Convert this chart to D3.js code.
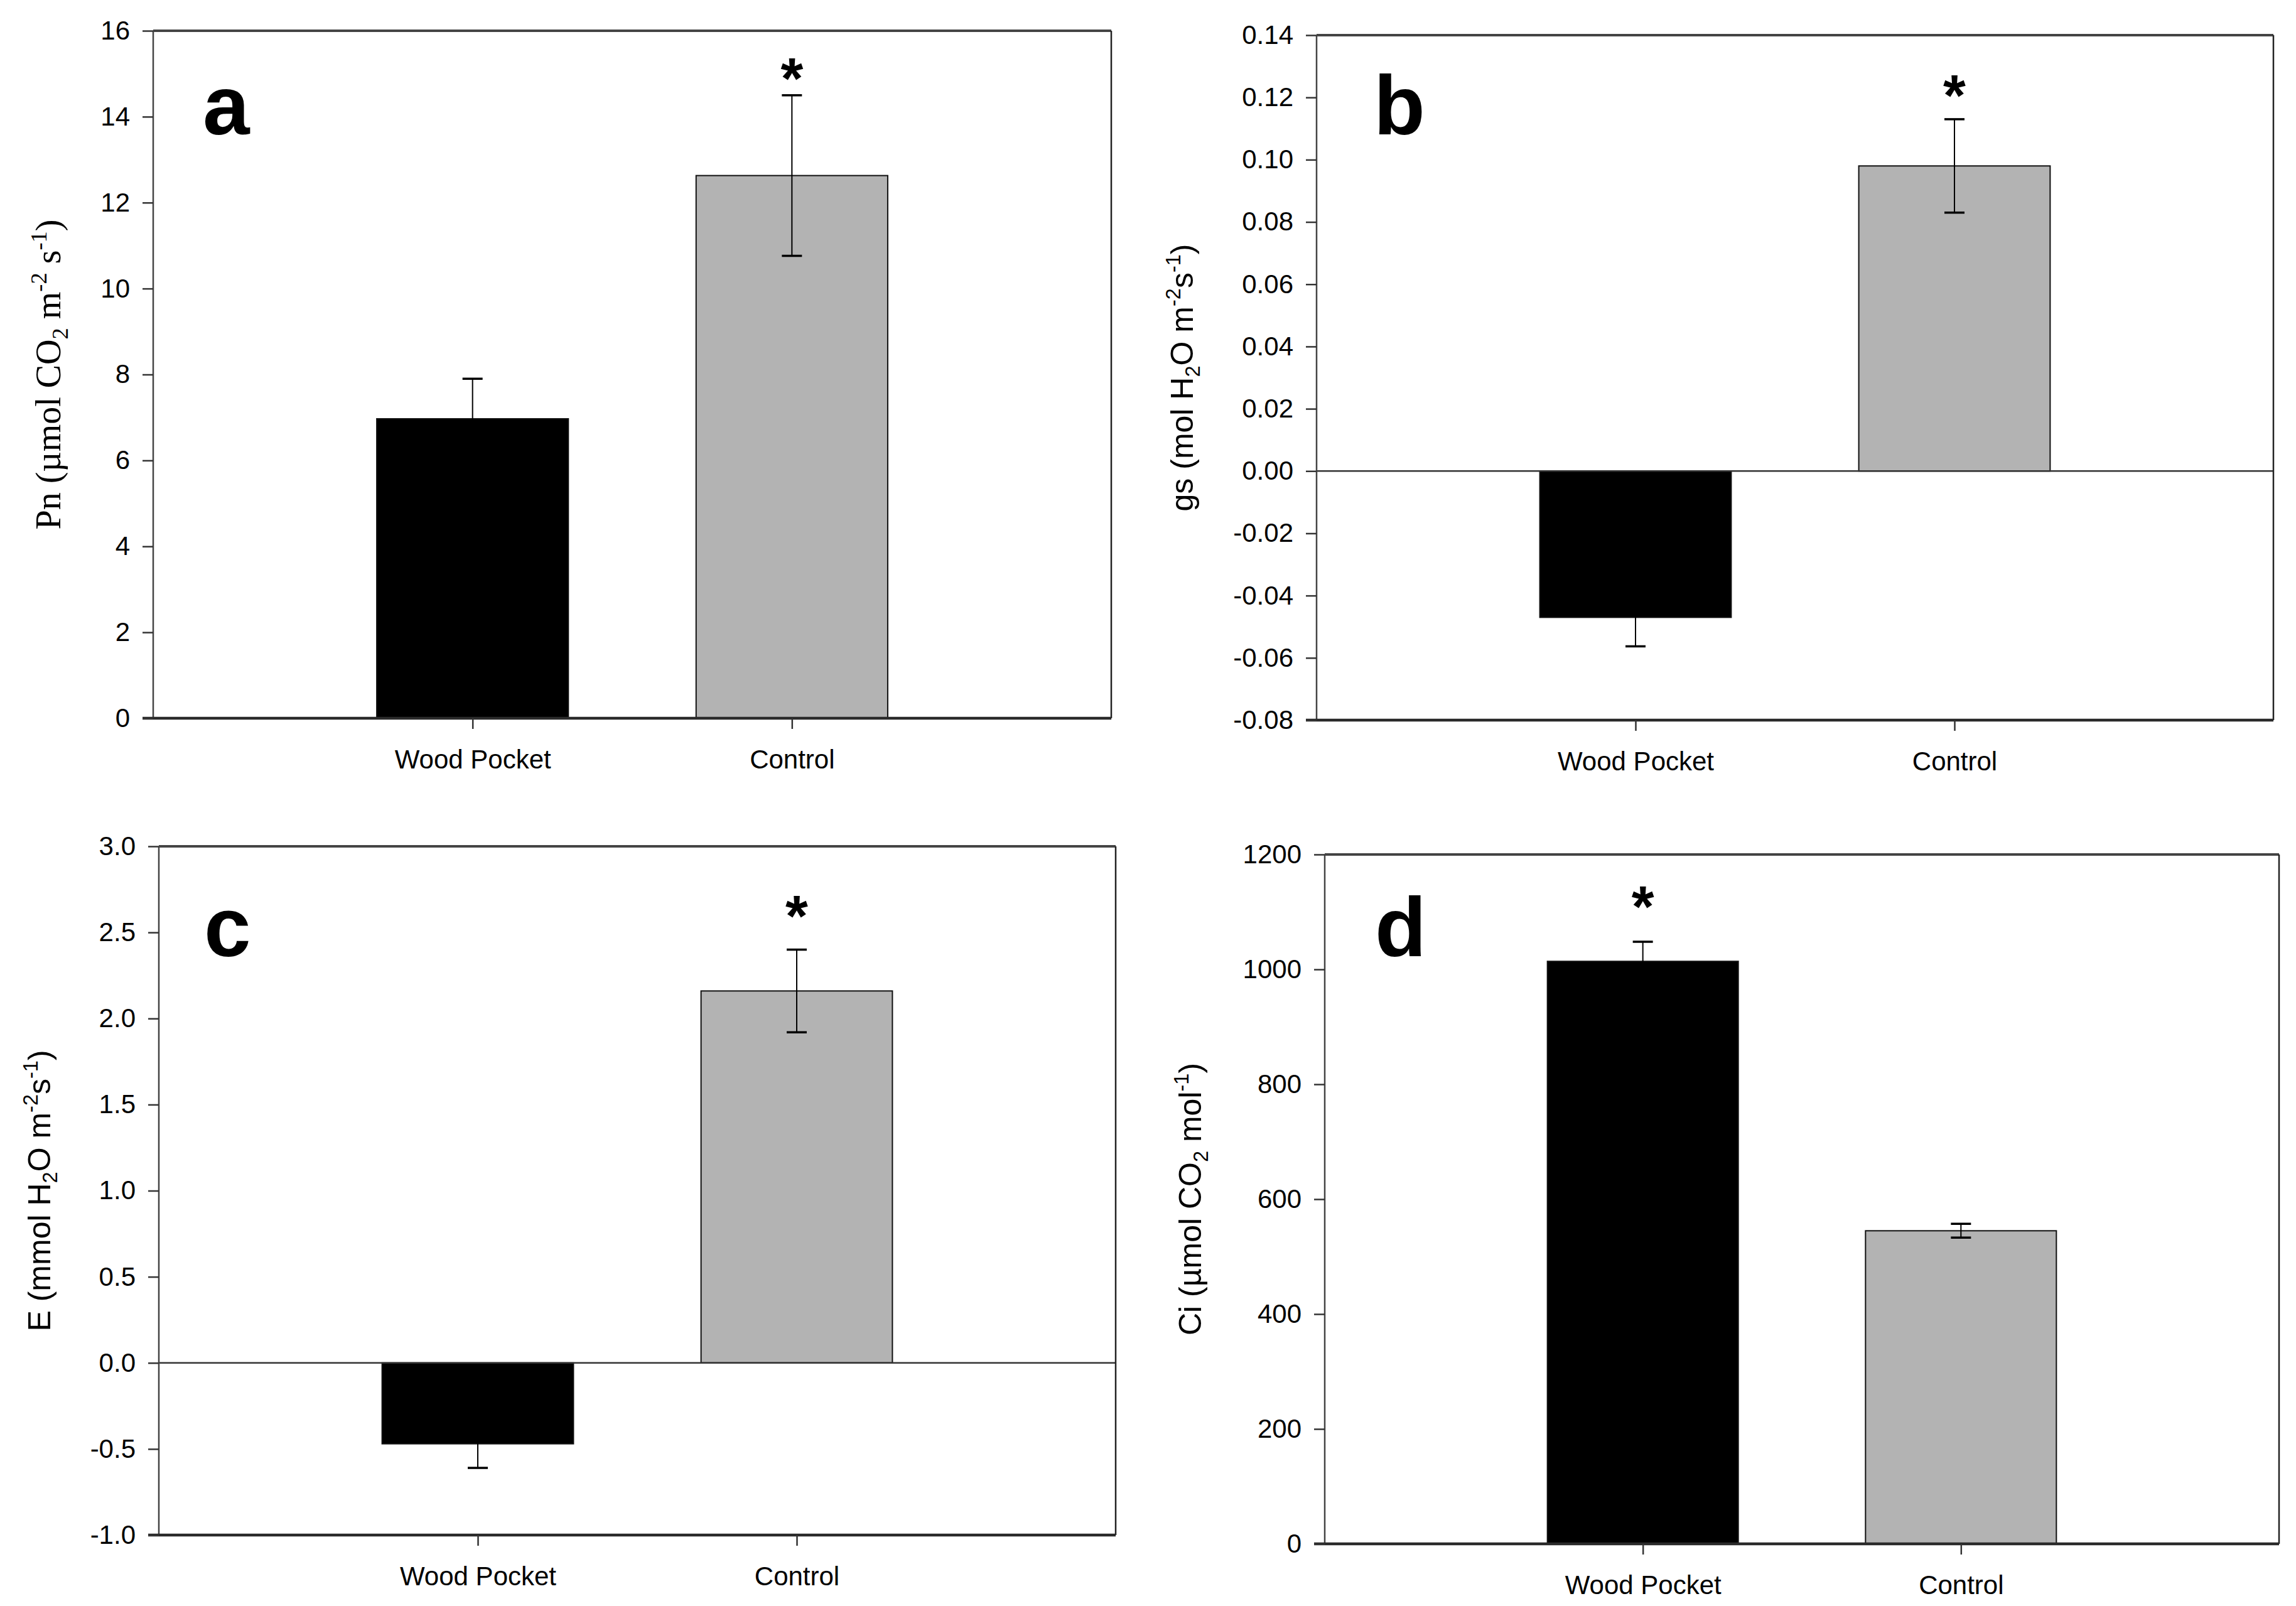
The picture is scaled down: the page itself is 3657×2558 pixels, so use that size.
<!DOCTYPE html>
<html>
<head>
<meta charset="utf-8">
<script src="https://cdn.jsdelivr.net/npm/d3@7"></script>
<style>
  body { margin: 0; background: #fff; }
  text { font-family: "Liberation Sans", Arial, sans-serif; fill: #000; }
</style>
</head>
<body>
<div id="vis"></div>
<script>
/**
 * DATA
 * */
const categories = ["Wood Pocket", "Control"];
const barColors = ["#000000", "#b3b3b3"];

// panel a : Pn
const pnMean = [6.97, 12.63];
const pnErr = [0.93, 1.87];
const pnTicks = [0, 2, 4, 6, 8, 10, 12, 14, 16];
// panel b : gs
const gsMean = [-0.047, 0.098];
const gsErr = [0.0093, 0.015];
const gsTicks = [-0.08, -0.06, -0.04, -0.02, 0, 0.02, 0.04, 0.06, 0.08, 0.10, 0.12, 0.14];
// panel c : E
const eMean = [-0.47, 2.16];
const eErr = [0.14, 0.24];
const eTicks = [-1.0, -0.5, 0, 0.5, 1.0, 1.5, 2.0, 2.5, 3.0];
// panel d : Ci
const ciMean = [1014, 545];
const ciErr = [34, 12];
const ciTicks = [0, 200, 400, 600, 800, 1000, 1200];

// significance stars: [category, value where the star sits]
const pnStar = ["Control", 15.18];
const gsStar = ["Control", 0.1246];
const eStar = ["Control", 2.665];
const ciStar = ["Wood Pocket", 1131];

// axis titles as [text, kind] pieces
const pnTitle = [["Pn (\u00b5mol CO", ""], ["2", "sub"], [" m", ""], ["-2", "sup"], [" s", ""], ["-1", "sup"], [")", ""]];
const gsTitle = [["gs (mol H", ""], ["2", "sub"], ["O m", ""], ["-2", "sup"], ["s", ""], ["-1", "sup"], [")", ""]];
const eTitle = [["E (mmol H", ""], ["2", "sub"], ["O m", ""], ["-2", "sup"], ["s", ""], ["-1", "sup"], [")", ""]];
const ciTitle = [["Ci (\u00b5mol CO", ""], ["2", "sub"], [" mol", ""], ["-1", "sup"], [")", ""]];

/**
 * LAYOUT
 * */
const W = 3657, H = 2558;

// plain hyphen for negatives, like the original figure
const loc = d3.formatLocale({ decimal: ".", thousands: ",", grouping: [3], currency: ["", ""], minus: "-" });

const panels = [
  { letter: "a", mean: pnMean, err: pnErr, ticks: pnTicks, star: pnStar, title: pnTitle,
    fmt: loc.format("d"), left: 244, right: 1770, top: 49, bottom: 1144,
    serif: true, titleX: 96, titleFs: 56, lab: [323, 214], zero: false },
  { letter: "b", mean: gsMean, err: gsErr, ticks: gsTicks, star: gsStar, title: gsTitle,
    fmt: loc.format(".2f"), left: 2097, right: 3621, top: 56, bottom: 1147,
    serif: false, titleX: 1900, titleFs: 50, lab: [2188, 214], zero: true },
  { letter: "c", mean: eMean, err: eErr, ticks: eTicks, star: eStar, title: eTitle,
    fmt: loc.format(".1f"), left: 253, right: 1777, top: 1348, bottom: 2445,
    serif: false, titleX: 80, titleFs: 50, lab: [325, 1523], zero: true },
  { letter: "d", mean: ciMean, err: ciErr, ticks: ciTicks, star: ciStar, title: ciTitle,
    fmt: loc.format("d"), left: 2110, right: 3630, top: 1361, bottom: 2459,
    serif: false, titleX: 1913, titleFs: 50, lab: [2190, 1523], zero: false },
];

const svg = d3.select("#vis")
  .append("svg")
  .attr("width", W)
  .attr("height", H);

svg.append("rect").attr("width", W).attr("height", H).attr("fill", "#fff");

panels.forEach(p => drawPanel(p));

function drawPanel(p) {
  const g = svg.append("g");

  let x = d3.scalePoint()
    .domain(categories)
    .range([p.left, p.right])
    .padding(1);

  let y = d3.scaleLinear()
    .domain(d3.extent(p.ticks))
    .range([p.bottom, p.top]);

  const bw = x.step() * 0.6;
  const rows = categories.map((c, i) => ({ cat: c, mean: p.mean[i], err: p.err[i], color: barColors[i] }));

  // bars
  g.selectAll("rect.bar")
    .data(rows)
    .join("rect")
    .attr("class", "bar")
    .attr("x", d => x(d.cat) - bw / 2)
    .attr("width", bw)
    .attr("y", d => Math.min(y(d.mean), y(0)))
    .attr("height", d => Math.abs(y(d.mean) - y(0)))
    .attr("fill", d => d.color)
    .attr("stroke", "#111")
    .attr("stroke-width", 2);

  // error bars
  g.selectAll("line.err")
    .data(rows)
    .join("line")
    .attr("class", "err")
    .attr("x1", d => x(d.cat)).attr("x2", d => x(d.cat))
    .attr("y1", d => y(d.mean - d.err)).attr("y2", d => y(d.mean + d.err))
    .attr("stroke", "#000").attr("stroke-width", 2);

  rows.forEach(d => {
    [d.mean - d.err, d.mean + d.err].forEach(v => {
      g.append("line")
        .attr("x1", x(d.cat) - 16).attr("x2", x(d.cat) + 16)
        .attr("y1", y(v)).attr("y2", y(v))
        .attr("stroke", "#000").attr("stroke-width", 3.5);
    });
  });

  // zero line
  if (p.zero) {
    g.append("line")
      .attr("x1", p.left).attr("x2", p.right)
      .attr("y1", y(0)).attr("y2", y(0))
      .attr("stroke", "#333").attr("stroke-width", 2.5);
  }

  // frame
  g.append("line").attr("x1", p.left).attr("x2", p.right).attr("y1", p.top).attr("y2", p.top)
    .attr("stroke", "#444").attr("stroke-width", 4);
  g.append("line").attr("x1", p.right).attr("x2", p.right).attr("y1", p.top).attr("y2", p.bottom)
    .attr("stroke", "#222").attr("stroke-width", 2.5);
  g.append("line").attr("x1", p.left).attr("x2", p.left).attr("y1", p.top).attr("y2", p.bottom)
    .attr("stroke", "#444").attr("stroke-width", 2.5);
  g.append("line").attr("x1", p.left - 17).attr("x2", p.right).attr("y1", p.bottom).attr("y2", p.bottom)
    .attr("stroke", "#2a2a2a").attr("stroke-width", 4.5);

  // axes
  let yAxis = d3.axisLeft(y)
    .tickValues(p.ticks)
    .tickSize(17)
    .tickPadding(20)
    .tickFormat(p.fmt);

  let ya = g.append("g")
    .attr("transform", `translate(${p.left},0)`)
    .call(yAxis);
  ya.select(".domain").remove();
  ya.selectAll(".tick line").attr("stroke", "#333").attr("stroke-width", 2.5);
  ya.selectAll(".tick text")
    .style("font-family", '"Liberation Sans", Arial, sans-serif')
    .style("font-size", "42px")
    .attr("fill", "#000");

  let xAxis = d3.axisBottom(x)
    .tickSize(17)
    .tickPadding(33);

  let xa = g.append("g")
    .attr("transform", `translate(0,${p.bottom})`)
    .call(xAxis);
  xa.select(".domain").remove();
  xa.selectAll(".tick line").attr("stroke", "#333").attr("stroke-width", 2.5);
  xa.selectAll(".tick text")
    .style("font-family", '"Liberation Sans", Arial, sans-serif')
    .style("font-size", "42px")
    .attr("fill", "#000");

  // y title (rotated)
  const cy = (p.top + p.bottom) / 2;
  let title = g.append("text")
    .attr("transform", `translate(${p.titleX},${cy}) rotate(-90)`)
    .attr("text-anchor", "middle")
    .style("font-family", p.serif ? '"Liberation Serif", "Times New Roman", serif' : '"Liberation Sans", Arial, sans-serif')
    .style("font-size", p.titleFs + "px");
  let shift = 0;
  p.title.forEach(([t, kind]) => {
    const target = kind === "sub" ? p.titleFs * 0.22 : kind === "sup" ? -p.titleFs * 0.4 : 0;
    title.append("tspan")
      .attr("dy", target - shift)
      .style("font-size", (kind ? p.titleFs * 0.65 : p.titleFs) + "px")
      .text(t);
    shift = target;
  });

  // panel letter
  g.append("text")
    .attr("x", p.lab[0])
    .attr("y", p.lab[1])
    .style("font-size", "134px")
    .style("font-weight", "bold")
    .text(p.letter);

  // star
  const starFs = 92;
  g.append("text")
    .attr("x", x(p.star[0]))
    .attr("y", y(p.star[1]) + starFs * 0.56)
    .attr("text-anchor", "middle")
    .style("font-size", starFs + "px")
    .style("font-weight", "bold")
    .text("*");
}
</script>
</body>
</html>
